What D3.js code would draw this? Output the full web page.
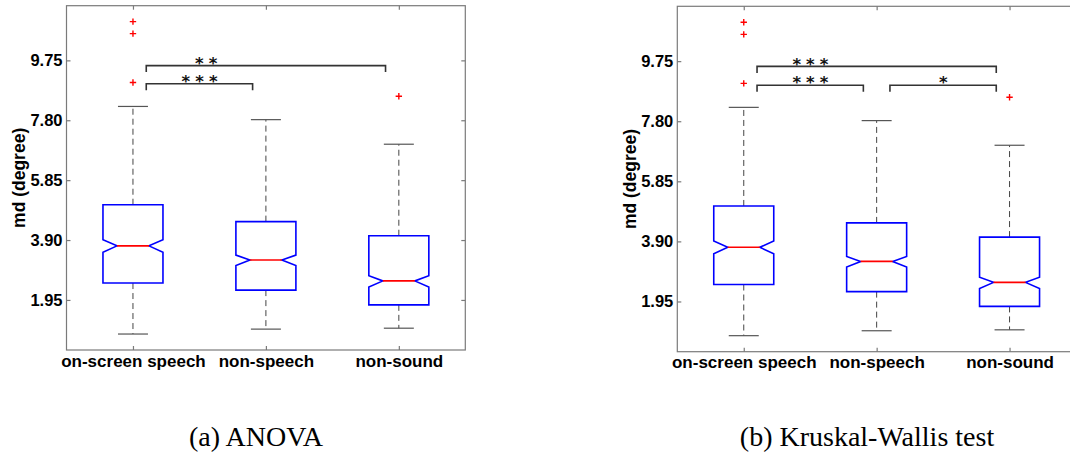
<!DOCTYPE html>
<html>
<head>
<meta charset="utf-8">
<script src="https://cdn.jsdelivr.net/npm/d3@7"></script>
<style>
  html, body { margin: 0; padding: 0; background: #fff; }
  svg { display: block; }
</style>
</head>
<body>
<svg id="chart" width="1070" height="460"></svg>
<script>
// ---------- data ----------
const categories = ["on-screen speech", "non-speech", "non-sound"];
const yTickValues = [1.95, 3.90, 5.85, 7.80, 9.75];

const whiskerLow  = [0.84, 1.00, 1.03];
const q1          = [2.50, 2.27, 1.79];
const notchLow    = [3.50, 3.07, 2.37];
const median      = [3.71, 3.25, 2.57];
const notchHigh   = [3.91, 3.41, 2.74];
const q3          = [5.05, 4.50, 4.04];
const whiskerHigh = [8.25, 7.82, 7.02];
const outliers    = [[11.01, 10.62, 9.03], [], [8.58]];

// significance brackets (pairs are 1-based group indices)
const anovaPairs  = [[1, 2], [1, 3]];
const anovaLevels = [8.99, 9.58];
const anovaStars  = ["* * *", "* *"];
const anovaStarX  = [1.50, 1.55];

const kwPairs  = [[1, 2], [2, 3], [1, 3]];
const kwLevels = [8.97, 8.97, 9.58];
const kwStars  = ["* * *", "*", "* * *"];
const kwStarX  = [1.50, 2.50, 1.50];

const captions = ["(a) ANOVA", "(b) Kruskal-Wallis test"];

// ---------- drawing ----------
const svg = d3.select("#chart");
const FONT = "'Liberation Sans', Arial, Helvetica, sans-serif";

function drawPanel(cfg) {
  const g = svg.append("g");
  const x = d3.scaleLinear().domain([0.5, 3.5]).range([cfg.left, cfg.right]);
  const y = d3.scaleLinear().domain([0.32, 11.53]).range([cfg.bottom, cfg.top]);
  const pxPerUnit = x(1) - x(0);
  const hw = 30 / pxPerUnit;     // box half width (units)
  const nw = 16 / pxPerUnit;     // notch half width
  const cw = 15 / pxPerUnit;     // whisker cap half width
  const idx = categories.map((d, i) => i + 1);

  // frame
  g.append("rect")
    .attr("x", cfg.left).attr("y", cfg.top)
    .attr("width", cfg.right - cfg.left).attr("height", cfg.bottom - cfg.top)
    .attr("fill", "none").attr("stroke", "#7a7a7a").attr("stroke-width", 1.2);

  // axes
  const axL = g.append("g").attr("transform", `translate(${cfg.left},0)`)
    .call(d3.axisLeft(y).tickValues(yTickValues).tickSize(-4).tickPadding(4)
      .tickFormat(d3.format(".2f")));
  const axR = g.append("g").attr("transform", `translate(${cfg.right},0)`)
    .call(d3.axisRight(y).tickValues(yTickValues).tickSize(-4).tickFormat(""));
  const axT = g.append("g").attr("transform", `translate(0,${cfg.top})`)
    .call(d3.axisTop(x).tickValues(idx).tickSize(-4).tickFormat(""));
  const axB = g.append("g").attr("transform", `translate(0,${cfg.bottom})`)
    .call(d3.axisBottom(x).tickValues(idx).tickSize(-4).tickPadding(4.5)
      .tickFormat(d => categories[d - 1]));
  [axL, axR, axT, axB].forEach(a => {
    a.select(".domain").remove();
    a.selectAll(".tick line").attr("stroke", "#7a7a7a").attr("stroke-width", 1.2);
  });
  axL.selectAll("text").attr("font-family", FONT).attr("font-weight", "bold")
    .attr("font-size", 16.5).attr("fill", "#000");
  axB.selectAll("text").attr("font-family", FONT).attr("font-weight", "bold")
    .attr("font-size", 17).attr("fill", "#000");

  // y label
  g.append("text")
    .attr("transform", `translate(${cfg.left - 47.7},${(cfg.top + cfg.bottom) / 2}) rotate(-90)`)
    .attr("text-anchor", "middle").attr("dominant-baseline", "central")
    .attr("font-family", FONT).attr("font-weight", "bold").attr("font-size", 17.5)
    .text("md (degree)");

  // whiskers (dashed) and caps
  const boxes = g.append("g");
  categories.forEach((c, i) => {
    const cx = i + 1;
    boxes.append("line").attr("x1", x(cx)).attr("x2", x(cx))
      .attr("y1", y(q3[i])).attr("y2", y(whiskerHigh[i]))
      .attr("stroke", "#444").attr("stroke-width", 1).attr("stroke-dasharray", "6,4");
    boxes.append("line").attr("x1", x(cx)).attr("x2", x(cx))
      .attr("y1", y(q1[i])).attr("y2", y(whiskerLow[i]))
      .attr("stroke", "#444").attr("stroke-width", 1).attr("stroke-dasharray", "6,4");
    [whiskerHigh[i], whiskerLow[i]].forEach(v => {
      boxes.append("line").attr("x1", x(cx - cw)).attr("x2", x(cx + cw))
        .attr("y1", y(v)).attr("y2", y(v))
        .attr("stroke", "#555").attr("stroke-width", 1.2);
    });
    // notched box
    const pts = [
      [cx - hw, q3[i]], [cx + hw, q3[i]], [cx + hw, notchHigh[i]], [cx + nw, median[i]],
      [cx + hw, notchLow[i]], [cx + hw, q1[i]], [cx - hw, q1[i]], [cx - hw, notchLow[i]],
      [cx - nw, median[i]], [cx - hw, notchHigh[i]]
    ];
    boxes.append("path")
      .attr("d", d3.line().x(p => x(p[0])).y(p => y(p[1]))(pts) + "Z")
      .attr("fill", "none").attr("stroke", "#0000ff").attr("stroke-width", 1.6);
    boxes.append("line").attr("x1", x(cx - nw)).attr("x2", x(cx + nw))
      .attr("y1", y(median[i])).attr("y2", y(median[i]))
      .attr("stroke", "#ff0000").attr("stroke-width", 1.6);
    // outliers
    outliers[i].forEach(v => {
      const ox = x(cx), oy = y(v);
      boxes.append("path")
        .attr("d", `M${ox - 3.2},${oy}H${ox + 3.2}M${ox},${oy - 3.2}V${oy + 3.2}`)
        .attr("stroke", "#ff0000").attr("stroke-width", 1.4).attr("fill", "none");
    });
  });

  // significance brackets
  const sig = g.append("g");
  cfg.pairs.forEach((p, k) => {
    const x1 = x(p[0] + 0.1), x2 = x(p[1] - 0.1), yl = y(cfg.levels[k]);
    sig.append("path")
      .attr("d", `M${x1},${yl + 6.5}V${yl}H${x2}V${yl + 6.5}`)
      .attr("fill", "none").attr("stroke", "#333").attr("stroke-width", 1.6);
    sig.append("text")
      .attr("x", x(cfg.starX[k])).attr("y", yl + 3.2)
      .attr("text-anchor", "middle")
      .attr("font-family", "'DejaVu Sans', sans-serif").attr("font-weight", "bold")
      .attr("font-size", 16.5).attr("letter-spacing", -0.35)
      .attr("fill", "#111")
      .text(cfg.stars[k]);
  });

  // caption
  svg.append("text")
    .attr("x", cfg.captionX).attr("y", 445.5)
    .attr("text-anchor", "middle")
    .attr("font-family", "'Liberation Serif', 'Times New Roman', serif")
    .attr("font-size", 28).attr("fill", "#000")
    .text(cfg.caption);
}

drawPanel({
  left: 66.5, right: 465.3, top: 5.7, bottom: 350,
  pairs: anovaPairs, levels: anovaLevels, stars: anovaStars, starX: anovaStarX,
  caption: captions[0], captionX: 256
});
drawPanel({
  left: 677.3, right: 1076, top: 6.3, bottom: 351.7,
  pairs: kwPairs, levels: kwLevels, stars: kwStars, starX: kwStarX,
  caption: captions[1], captionX: 867
});
</script>
</body>
</html>
